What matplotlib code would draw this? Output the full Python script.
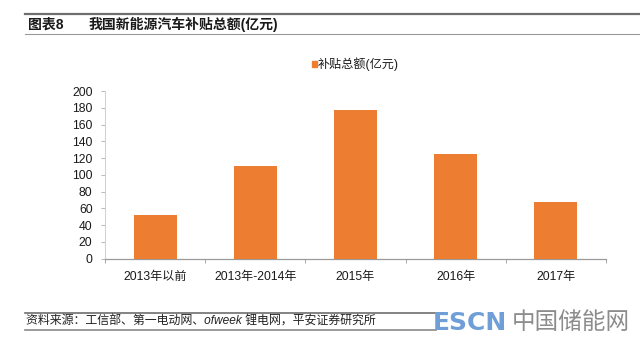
import matplotlib
matplotlib.use("Agg")
import matplotlib.pyplot as plt
from matplotlib.lines import Line2D
from matplotlib.patches import Rectangle

plt.rcParams['font.family'] = ['Liberation Sans', 'Noto Sans CJK SC', 'DejaVu Sans']

# Data
categories = ["2013年以前", "2013年-2014年", "2015年", "2016年", "2017年"]
subsidy = [52, 111, 177, 125, 68]
y_ticks = [0, 20, 40, 60, 80, 100, 120, 140, 160, 180, 200]
series_name = "补贴总额(亿元)"
title_no = "图表8"
title_text = "我国新能源汽车补贴总额(亿元)"
source_text = "资料来源：工信部、第一电动网、ofweek 锂电网，平安证券研究所"

W, H = 640, 339
fig = plt.figure(figsize=(W / 100, H / 100), dpi=100)
fig.patch.set_facecolor("white")

def fx(px):
    return px / W

def fy(py):
    return 1 - py / H

bar_color = "#ED7D31"

# Plot area
ax = fig.add_axes([fx(105), fy(258.7), fx(606) - fx(105), fy(91) - fy(258.7)])
x = list(range(len(categories)))
ax.bar(x, subsidy, width=0.43, color=bar_color, zorder=3)
ax.set_xlim(-0.5, len(categories) - 0.5)
ax.set_ylim(0, 200)
ax.set_yticks(y_ticks)
ax.set_yticklabels([str(v) for v in y_ticks], fontsize=8.7, color="#1a1a1a")
ax.set_xticks(x)
ax.set_xticklabels(categories, fontsize=8.7, color="#1a1a1a")
ax.set_xticks([i - 0.5 for i in range(len(categories) + 1)], minor=True)
ax.tick_params(axis="x", which="major", length=0, pad=9)
ax.tick_params(axis="x", which="minor", length=3, color="#9a9a9a", direction="out")
ax.tick_params(axis="y", length=3, color="#bdbdbd", direction="out", pad=6)
for s in ("top", "right"):
    ax.spines[s].set_visible(False)
ax.spines["bottom"].set_color("#9a9a9a")
ax.spines["bottom"].set_linewidth(0.9)
ax.spines["left"].set_color("#d0d0d0")
ax.spines["left"].set_linewidth(0.7)
ax.set_facecolor("white")

# Legend
fig.patches.append(Rectangle((fx(311.5), fy(67)), fx(5.5), fy(61.5) - fy(67),
                             transform=fig.transFigure, color=bar_color))
fig.text(fx(318), fy(64), series_name, fontsize=8.7, va="center", ha="left",
         color="#1a1a1a")

# Header
fig.add_artist(Line2D([fx(25), 1.0], [fy(14), fy(14)], color="#6e6e6e", lw=1.6,
                      transform=fig.transFigure))
fig.add_artist(Line2D([fx(25), 1.0], [fy(34), fy(34)], color="#9a9a9a", lw=0.8,
                      transform=fig.transFigure))
fig.text(fx(28), fy(24.5), title_no, fontsize=10, fontweight="bold", va="center",
         ha="left", color="#1a1a1a")
fig.text(fx(89), fy(24.5), title_text, fontsize=10, fontweight="bold", va="center",
         ha="left", color="#1a1a1a")

# Footer
fig.add_artist(Line2D([fx(25), fx(436)], [fy(313), fy(313)], color="#6e6e6e", lw=1.2,
                      transform=fig.transFigure))
fig.add_artist(Line2D([fx(25), fx(436)], [fy(330), fy(330)], color="#8a8a8a", lw=1.2,
                      transform=fig.transFigure))
fig.text(fx(26), fy(321.5), source_text, fontsize=8.6, va="center", ha="left",
         color="#222222", style="italic")

# Site mark
fig.text(fx(433), fy(322.5), "ESCN", fontsize=18, fontweight="bold",
         family=["DejaVu Sans"], va="center", ha="left", color="#6f9fd6")
fig.text(fx(512), fy(322.5), "中国储能网", fontsize=17, va="center", ha="left",
         family=["Noto Sans CJK SC"], color="#8c8c8c")

fig.savefig("out.png", dpi=100, facecolor="white")
